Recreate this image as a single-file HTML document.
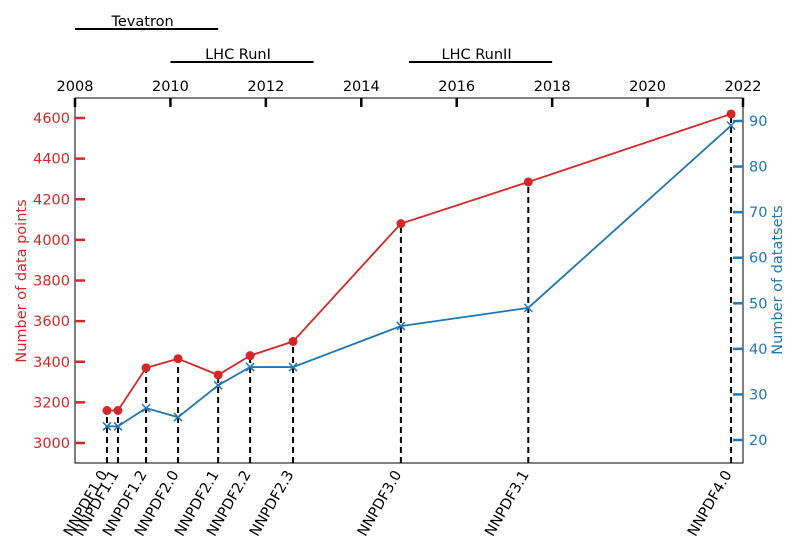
<!DOCTYPE html>
<html><head><meta charset="utf-8"><style>
body{margin:0;background:#fff}
svg{font-family:"DejaVu Sans","Liberation Sans",sans-serif}
</style></head><body>
<svg id="c" width="800" height="550" viewBox="0 0 800 550"></svg>
<script>
const labels=["NNPDF1.0","NNPDF1.1","NNPDF1.2","NNPDF2.0","NNPDF2.1","NNPDF2.2","NNPDF2.3","NNPDF3.0","NNPDF3.1","NNPDF4.0"];
const years=[2008.67,2008.9,2009.49,2010.16,2011.0,2011.67,2012.57,2014.83,2017.5,2021.75];
const dataPoints=[3160,3160,3370,3415,3335,3430,3500,4080,4285,4620];
const datasets=[23,23,27,25,32,36,36,45,49,89];
const leftTicks=[3000,3200,3400,3600,3800,4000,4200,4400,4600];
const rightTicks=[20,30,40,50,60,70,80,90];
const yearTicks=[2008,2010,2012,2014,2016,2018,2020,2022];
const periods=[["Tevatron",2008,2011,29],["LHC RunI",2010,2013,62],["LHC RunII",2015,2018,62]];

const L=75,R=743,T=98,B=463;
const FS=14.5;
const xS=y=>L+(y-2008)*(R-L)/14;
const yL=v=>443-(v-3000)*(443-118)/1600;
const yR=v=>440-(v-20)*(440-121)/70;
const svg=document.getElementById('c');
const NS="http://www.w3.org/2000/svg";
function mk(t,a,txt){const e=document.createElementNS(NS,t);for(const k in a)e.setAttribute(k,a[k]);if(txt!==undefined)e.textContent=txt;svg.appendChild(e);return e;}

years.forEach((y,i)=>{const top=Math.min(yL(dataPoints[i]),yR(datasets[i]));
const e=mk('line',{x1:xS(y),x2:xS(y),y1:B,y2:top,stroke:'#000','stroke-width':2,'stroke-dasharray':'6,4'});
});

let e=mk('polyline',{points:years.map((y,i)=>xS(y)+','+yL(dataPoints[i])).join(' '),fill:'none',stroke:'#d62728','stroke-width':1.8});

years.forEach((y,i)=>{const c=mk('circle',{cx:xS(y),cy:yL(dataPoints[i]),r:4.5,fill:'#d62728'});
});
e=mk('polyline',{points:years.map((y,i)=>xS(y)+','+yR(datasets[i])).join(' '),fill:'none',stroke:'#1f77b4','stroke-width':1.8});

years.forEach((y,i)=>{const x=xS(y),yy=yR(datasets[i]);
const p=mk('path',{d:`M${x-4},${yy-4}L${x+4},${yy+4}M${x-4},${yy+4}L${x+4},${yy-4}`,stroke:'#1f77b4','stroke-width':1.5});
});

e=mk('rect',{x:L,y:T,width:R-L,height:B-T,fill:'none',stroke:'#000','stroke-width':1});


leftTicks.forEach(v=>{const y=yL(v);
let t=mk('line',{x1:L,x2:L+10,y1:y,y2:y,stroke:'#d62728','stroke-width':2.5});

t=mk('text',{x:L-5,y:y+5,'text-anchor':'end','font-size':FS,fill:'#d62728'},v);
});
rightTicks.forEach(v=>{const y=yR(v);
let t=mk('line',{x1:R-10,x2:R,y1:y,y2:y,stroke:'#1f77b4','stroke-width':2.5});

t=mk('text',{x:R+6,y:y+5,'font-size':FS,fill:'#1f77b4'},v);
});
yearTicks.forEach(v=>{const x=xS(v);
let t=mk('line',{x1:x,x2:x,y1:T,y2:T+9,stroke:'#000','stroke-width':2.5});

t=mk('text',{x:x,y:91,'text-anchor':'middle','font-size':FS,fill:'#000'},v);
});
periods.forEach(p=>{const x1=xS(p[1]),x2=xS(p[2]);
let t=mk('line',{x1:x1,x2:x2,y1:p[3],y2:p[3],stroke:'#000','stroke-width':2});

t=mk('text',{x:(x1+x2)/2-4,y:p[3]-3,'text-anchor':'middle','font-size':FS,fill:'#000'},p[0]);
});
years.forEach((y,i)=>{const x=xS(y)+1,yy=474;
const t=mk('text',{x:x,y:yy,'text-anchor':'end','font-size':FS,fill:'#000',transform:`rotate(-60 ${x} ${yy})`},labels[i]);
});
e=mk('text',{x:26,y:281,'text-anchor':'middle','font-size':FS,fill:'#d62728',transform:'rotate(-90 26 281)'},'Number of data points');

e=mk('text',{x:782,y:280,'text-anchor':'middle','font-size':FS,fill:'#1f77b4',transform:'rotate(-90 782 280)'},'Number of datatsets');

</script>
</body></html>
